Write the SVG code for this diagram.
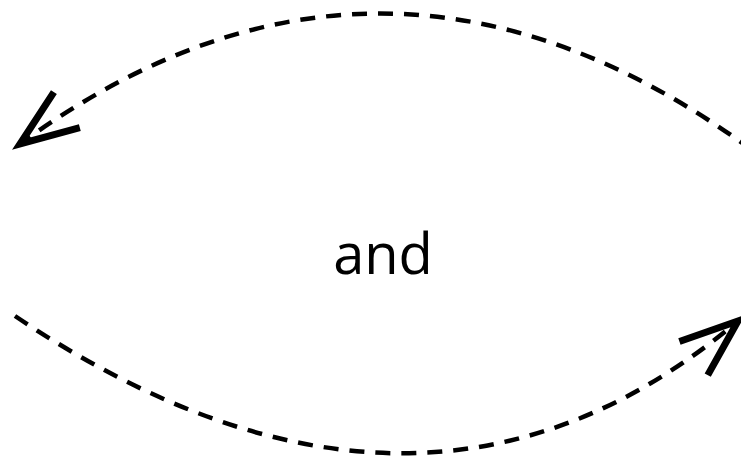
<svg xmlns="http://www.w3.org/2000/svg" width="741" height="458" viewBox="0 0 741 458">
<style>
.edge{fill:none;stroke:#000;stroke-width:4.5;stroke-dasharray:15 11}
.lbl{font-family:"Open Sans","Noto Sans",sans-serif;font-size:56px;fill:#000;text-anchor:middle}
</style>
<defs>
<marker id="ah" markerUnits="userSpaceOnUse" orient="auto" markerWidth="80" markerHeight="80" refX="0" refY="0" viewBox="-70 -40 80 80" overflow="visible">
<polyline points="-58,-22 0,0 -58,22" fill="none" stroke="#000" stroke-width="7" stroke-linejoin="miter"/>
</marker>
</defs>
<rect width="741" height="458" fill="#fff"/>
<g id="connectors">
<path class="edge" d="M 752,150 Q 382,-120 20,144" marker-end="url(#ah)"/>
<path class="edge" d="M 15,316 Q 420,588 738,321" marker-end="url(#ah)"/>
</g>
<g id="node-and">
<text class="lbl" x="383" y="274">and</text>
</g>
</svg>
